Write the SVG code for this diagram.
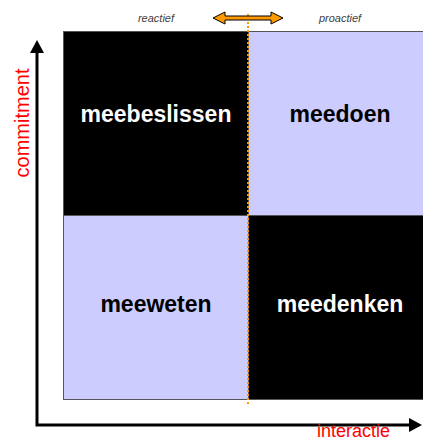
<svg xmlns="http://www.w3.org/2000/svg" width="423" height="441" viewBox="0 0 423 441">
<defs>
<style>
.dark{fill:#000000;stroke:#555555;stroke-width:1}
.light{fill:#CCCCFF;stroke:#555555;stroke-width:1}
.lblw{font-family:"Liberation Sans",Arial,sans-serif;font-weight:bold;font-size:23px;fill:#FFFFFF;text-anchor:middle}
.lblb{font-family:"Liberation Sans",Arial,sans-serif;font-weight:bold;font-size:23px;fill:#000000;text-anchor:middle}
.axis{stroke:#000000;stroke-width:3;fill:none}
.axlbl{font-family:"Liberation Sans",Arial,sans-serif;font-size:20px;fill:#FF0000}
.top{font-family:"Liberation Sans",Arial,sans-serif;font-style:italic;font-size:11px;fill:#404040;text-anchor:middle}
</style>
</defs>
<g id="meebeslissen"><rect class="dark" x="63.5" y="31.5" width="185" height="184"/><text class="lblw" x="156" y="122">meebeslissen</text></g>
<g id="meedoen"><rect class="light" x="248.5" y="31.5" width="185" height="184"/><text class="lblb" x="340" y="122">meedoen</text></g>
<g id="meeweten"><rect class="light" x="63.5" y="215.5" width="185" height="184"/><text class="lblb" x="156" y="312">meeweten</text></g>
<g id="meedenken"><rect class="dark" x="248.5" y="215.5" width="185" height="184"/><text class="lblw" x="340" y="312">meedenken</text></g>
<g id="connectors">
<line x1="248" y1="14" x2="248" y2="405" stroke="#FF9900" stroke-width="2" stroke-dasharray="2,2"/>
<path d="M213,18 L225,12 L225,16 L271,16 L271,12 L283,18 L271,24 L271,20 L225,20 L225,24 Z" fill="#FF9900" stroke="#000000" stroke-width="1"/>
<path class="axis" d="M37,52 L37,425 L410,425"/>
<path d="M37,40 L30,53 L44,53 Z" fill="#000000"/>
<path d="M422,425 L409,418 L409,432 Z" fill="#000000"/>
</g>
<text class="top" x="156" y="22">reactief</text>
<text class="top" x="340" y="22">proactief</text>
<text class="axlbl" transform="translate(29,123) rotate(-90)" text-anchor="middle">commitment</text>
<text class="axlbl" x="353.5" y="437" text-anchor="middle" style="font-size:18px">interactie</text>
</svg>
